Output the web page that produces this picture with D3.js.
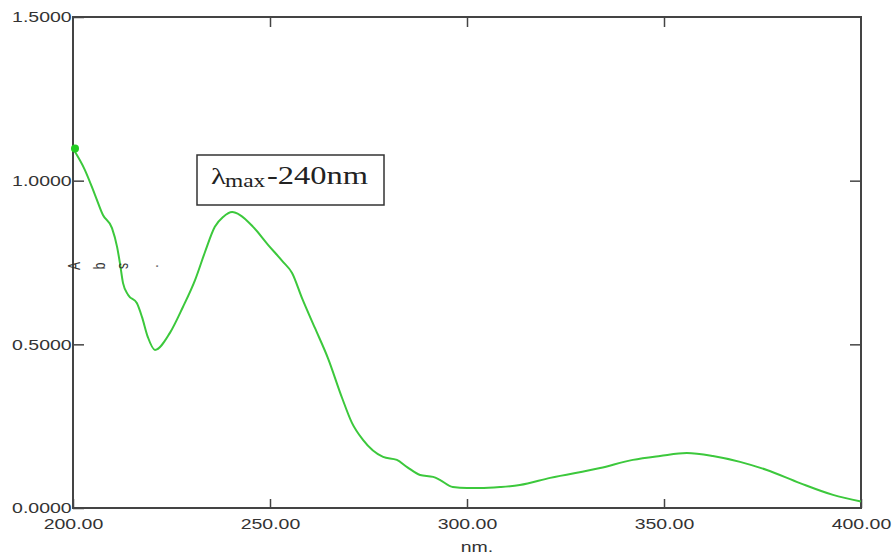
<!DOCTYPE html>
<html>
<head>
<meta charset="utf-8">
<script src="https://cdn.jsdelivr.net/npm/d3@7"></script>
<style>
  body { margin: 0; background: #fff; }
  #chart { width: 892px; height: 555px; }
</style>
</head>
<body>
<div id="chart"></div>
<script>
// spectrum
var wavelength = [200, 203.0, 205.6, 207.6, 209.9, 211.2, 211.9, 212.7, 214.0, 216.2, 217.5, 219.0, 220.8,
	224.6, 227.9, 231.0, 233.5, 236.0, 238.1, 240.4, 242.4, 245.7, 249.5, 253.3, 255.6, 258.1,
	261.4, 264.7, 268.3, 270.8, 273.6, 278.7, 282.2, 284.8, 288.1, 291.4, 293.1, 296.4, 300.0,
	303.3, 308.4, 313.4, 321.1, 333.8, 342.1, 349.0, 355.8, 362.4, 369.3, 376.1, 384.5, 392.9, 400];
var absorbance = [1.098, 1.033, 0.956, 0.895, 0.855, 0.797, 0.749, 0.687, 0.651, 0.626, 0.584, 0.522, 0.483,
	0.535, 0.614, 0.697, 0.782, 0.859, 0.889, 0.904, 0.895, 0.859, 0.804, 0.752, 0.718, 0.642,
	0.550, 0.458, 0.336, 0.260, 0.208, 0.156, 0.147, 0.125, 0.101, 0.095, 0.086, 0.064, 0.061,
	0.061, 0.064, 0.070, 0.092, 0.122, 0.147, 0.159, 0.168, 0.159, 0.141, 0.116, 0.076, 0.040, 0.020];

var xTicks = [200, 250, 300, 350, 400];
var yTicks = [0, 0.5, 1.0, 1.5];
var xTitle = "nm.";
var yTitle = ["A", "b", "s", "."];
var peakLabel = "-240nm";

var dataset = wavelength.map(function(w, i) { return [w, absorbance[i]]; });

var w = 892, h = 555;
var plotLeft = 73, plotRight = 861, plotTop = 17, plotBottom = 508;
var stretch = 1.3;   // the scan is stretched sideways
var axisColour = "#444";
var textColour = "#333";
var lineColour = "#3cc83c";

var svg = d3.select("#chart").append("svg")
	.attr("width", w)
	.attr("height", h)
	.style("font-family", "'Liberation Sans', Arial, sans-serif");

var xScale = d3.scaleLinear().domain([200, 400]).range([plotLeft, plotRight]);
var yScale = d3.scaleLinear().domain([0, 1.5]).range([plotBottom, plotTop]);

function styleAxis(g) {
	g.select(".domain").remove();
	g.selectAll("line").attr("stroke", axisColour).attr("stroke-width", 1.5);
	g.selectAll("text")
		.attr("fill", textColour)
		.attr("font-size", "15px")
		.attr("transform", "scale(" + stretch + ",1)");
}

// bottom axis with labels
svg.append("g")
	.attr("transform", "translate(0," + plotBottom + ")")
	.call(d3.axisBottom(xScale).tickValues(xTicks).tickSizeInner(-9).tickSizeOuter(0)
		.tickPadding(10).tickFormat(d3.format(".2f")))
	.call(styleAxis);

// top axis, ticks only
svg.append("g")
	.attr("transform", "translate(0," + plotTop + ")")
	.call(d3.axisTop(xScale).tickValues(xTicks.slice(1, -1)).tickSizeInner(-10).tickSizeOuter(0).tickFormat(""))
	.call(styleAxis);

// left axis with labels
svg.append("g")
	.attr("transform", "translate(" + plotLeft + ",0)")
	.call(d3.axisLeft(yScale).tickValues(yTicks).tickSizeInner(-11).tickSizeOuter(0)
		.tickPadding(1).tickFormat(d3.format(".4f")))
	.call(styleAxis);

// right axis, ticks only
svg.append("g")
	.attr("transform", "translate(" + plotRight + ",0)")
	.call(d3.axisRight(yScale).tickValues(yTicks.slice(1, -1)).tickSizeInner(-11).tickSizeOuter(0).tickFormat(""))
	.call(styleAxis);

// frame
svg.append("rect")
	.attr("x", plotLeft)
	.attr("y", plotTop)
	.attr("width", plotRight - plotLeft)
	.attr("height", plotBottom - plotTop)
	.attr("fill", "none")
	.attr("stroke", axisColour)
	.attr("stroke-width", 2);

// spectrum
var line = d3.line()
	.x(function(d) { return xScale(d[0]); })
	.y(function(d) { return yScale(d[1]); })
	.curve(d3.curveMonotoneX);

svg.append("path")
	.datum(dataset)
	.attr("d", line)
	.attr("fill", "none")
	.attr("stroke", lineColour)
	.attr("stroke-width", 2);

svg.append("circle")
	.attr("cx", xScale(dataset[0][0]) + 2)
	.attr("cy", yScale(dataset[0][1]))
	.attr("r", 4)
	.attr("fill", "#22cc22");

// x title
svg.append("text")
	.attr("transform", "translate(477,552) scale(" + stretch + ",1)")
	.attr("text-anchor", "middle")
	.attr("font-size", "15px")
	.attr("fill", textColour)
	.text(xTitle);

// y title, one rotated letter at a time
var titleX = [75, 100, 123, 153];
svg.selectAll(".ytitle")
	.data(yTitle)
	.enter()
	.append("text")
	.attr("class", "ytitle")
	.attr("transform", function(d, i) {
		return "translate(" + titleX[i] + ",266) scale(" + stretch + ",1) rotate(-90)";
	})
	.attr("text-anchor", "middle")
	.attr("dy", "0.35em")
	.attr("font-size", "12px")
	.attr("fill", textColour)
	.text(function(d) { return d; });

// lambda max box
var box = svg.append("g").style("font-family", "'Liberation Serif', 'Times New Roman', serif");
box.append("rect")
	.attr("x", 197)
	.attr("y", 155)
	.attr("width", 187)
	.attr("height", 50)
	.attr("fill", "#fff")
	.attr("stroke", "#333")
	.attr("stroke-width", 1.5);
box.append("text")
	.attr("transform", "translate(211,184) scale(" + stretch + ",1)")
	.attr("font-size", "24px")
	.attr("fill", "#222")
	.text("λ");
box.append("text")
	.attr("transform", "translate(225,187) scale(" + stretch + ",1)")
	.attr("font-size", "18px")
	.attr("fill", "#222")
	.text("max");
box.append("text")
	.attr("transform", "translate(267,184) scale(" + stretch + ",1)")
	.attr("font-size", "25px")
	.attr("fill", "#222")
	.text(peakLabel);
</script>
</body>
</html>
